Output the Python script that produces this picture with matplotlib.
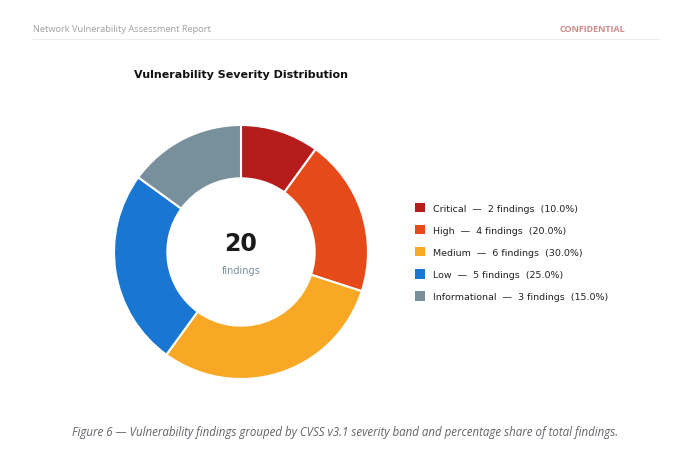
import matplotlib
matplotlib.use("Agg")
import matplotlib.pyplot as plt
from matplotlib.patches import Patch

categories = ["Critical", "High", "Medium", "Low", "Informational"]
findings = [2, 4, 6, 5, 3]
colors = ["#B71C1C", "#E64A19", "#F9A825", "#1976D2", "#78909C"]

header_left = "Network Vulnerability Assessment Report"
header_right = "CONFIDENTIAL"
chart_title = "Vulnerability Severity Distribution"
caption = ("Figure 6 \u2014 Vulnerability findings grouped by CVSS v3.1 severity band "
           "and percentage share of total findings.")

W, H = 680, 452
fig = plt.figure(figsize=(W / 100, H / 100), dpi=100)
fig.patch.set_facecolor("white")

# header
fig.text(33 / W, 1 - 29 / H, header_left, fontsize=6.7, color="#a0a0a0",
         family="Open Sans", va="center", ha="left")
fig.text(625 / W, 1 - 29 / H, header_right, fontsize=6.5, color="#d08a8a",
         family="Open Sans", fontweight="bold", va="center", ha="right")
fig.add_artist(plt.Line2D([33 / W, 660 / W], [1 - 40 / H, 1 - 40 / H],
                          color="#eeeeee", lw=0.8))

# donut
total = sum(findings)
cx, cy, r = 241, 253, 127
pad = 1.03
ax = fig.add_axes([(cx - r * pad) / W, (H - cy - r * pad) / H,
                   2 * r * pad / W, 2 * r * pad / H])
wedges, _ = ax.pie(findings, colors=colors, startangle=90, counterclock=False,
                   wedgeprops=dict(width=0.42, edgecolor="white", linewidth=1.5))
ax.set_xlim(-pad, pad)
ax.set_ylim(-pad, pad)
ax.set_aspect("equal")

ax.text(0, 0.07, str(total), ha="center", va="center", fontsize=17,
        fontweight="bold", color="#1a1a1a")
ax.text(0, -0.14, "findings", ha="center", va="center", fontsize=7,
        color="#78909C")

fig.text(cx / W, 1 - 75 / H, chart_title, ha="center", va="center",
         fontsize=8, fontweight="bold", color="#111111")

# legend
labels = [f"{c}  \u2014  {n} findings  ({n / total * 100:.1f}%)"
          for c, n in zip(categories, findings)]
handles = [Patch(facecolor=col, edgecolor="none") for col in colors]
fig.legend(handles, labels, loc="center left", bbox_to_anchor=(406 / W, 1 - 253 / H),
           frameon=False, fontsize=6.8, handlelength=1.15, handleheight=1.15,
           handletextpad=0.8, labelspacing=1.3, labelcolor="#222222")

# caption
fig.text(345 / W, 1 - 433 / H, caption, ha="center", va="center", fontsize=8.3,
         style="italic", color="#5f6368", family="Open Sans")

fig.savefig("out.png", dpi=100, facecolor="white")
